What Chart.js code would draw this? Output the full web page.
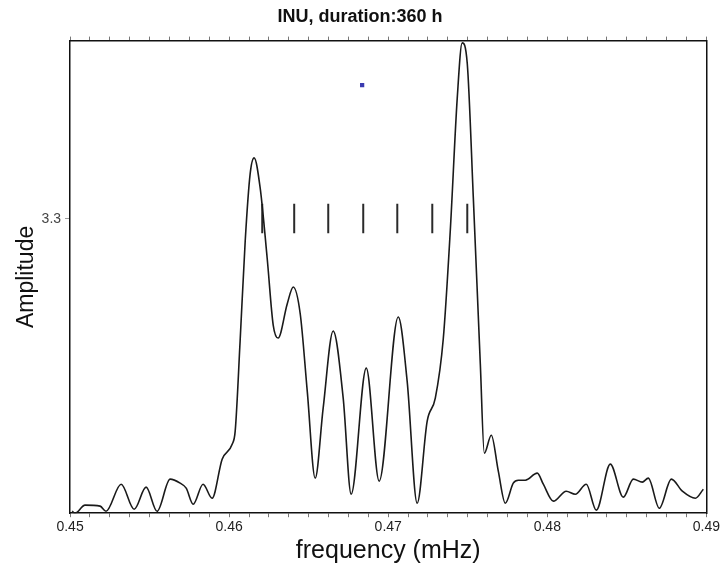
<!DOCTYPE html>
<html>
<head>
<meta charset="utf-8">
<script src="https://cdn.jsdelivr.net/npm/chart.js@4/dist/chart.umd.min.js"></script>
<style>
  html, body { margin: 0; padding: 0; background: #fff; }
  #c { display: block; }
</style>
</head>
<body>
<canvas id="c" width="722" height="566"></canvas>
<script>
// spectre d'amplitude
const freq = [
  0.45013, 0.45031, 0.45094, 0.45189, 0.45226, 0.45321, 0.45403, 0.45478, 0.45547,
  0.45629, 0.45692, 0.45730, 0.45774, 0.45836, 0.45893, 0.45956, 0.46019, 0.46038,
  0.46069, 0.46101, 0.46132, 0.46157, 0.46195, 0.46239, 0.46277, 0.46308, 0.46365,
  0.46403, 0.46447, 0.46491, 0.46541, 0.46591, 0.46654, 0.46717, 0.46767, 0.46862,
  0.46943, 0.47063, 0.47119, 0.47182, 0.47245, 0.47296, 0.47346, 0.47390, 0.47434,
  0.47465, 0.47497, 0.47535, 0.47579, 0.47604, 0.47648, 0.47692, 0.47736, 0.47786,
  0.47818, 0.47862, 0.47937, 0.47975, 0.48038, 0.48119, 0.48176, 0.48245, 0.48308,
  0.48396, 0.48478, 0.48541, 0.48597, 0.48635, 0.48704, 0.48780, 0.48849, 0.48931,
  0.48981
];
const amp = [
  0.022, 0.000, 0.090, 0.079, 0.022, 0.325, 0.045, 0.292, 0.022,
  0.382, 0.337, 0.281, 0.101, 0.325, 0.168, 0.606, 0.774, 0.920,
  1.931, 3.053, 3.805, 3.985, 3.648, 2.862, 2.110, 1.964, 2.346,
  2.537, 2.234, 1.369, 0.393, 1.179, 2.043, 1.291, 0.213, 1.627,
  0.359, 2.200, 1.482, 0.112, 1.033, 1.291, 1.953, 3.165, 4.658,
  5.275, 5.040, 3.536, 1.672, 0.673, 0.875, 0.471, 0.112, 0.337,
  0.370, 0.370, 0.449, 0.325, 0.135, 0.247, 0.213, 0.325, 0.034,
  0.550, 0.180, 0.382, 0.348, 0.393, 0.056, 0.382, 0.247, 0.168,
  0.269
];

// repères verticaux des fréquences théoriques
const markFreq = [0.46208, 0.46409, 0.46623, 0.46843, 0.47057, 0.47277, 0.47497];
const markRange = [3.14, 3.47];

// petit repère bleu
const blueMark = [{ x: 0.46836, y: 4.80 }];

const yTicks = [3.3];
const FONT = "'Liberation Sans', Arial, sans-serif";

const spectrum = freq.map((f, i) => ({ x: f, y: amp[i] }));
const marks = markFreq.flatMap(f => [
  { x: f, y: markRange[0] },
  { x: f, y: markRange[1] },
  { x: f, y: null }
]);

function majorLabel(v) {
  const k = v * 100;
  return Math.abs(k - Math.round(k)) < 1e-6 ? v.toFixed(2) : '';
}

const ctx = document.getElementById('c').getContext('2d');
new Chart(ctx, {
  type: 'line',
  data: {
    datasets: [
      {
        data: spectrum,
        borderColor: '#1a1a1a',
        borderWidth: 1.6,
        pointRadius: 0,
        fill: false,
        cubicInterpolationMode: 'monotone'
      },
      {
        data: marks,
        borderColor: '#2a2a2a',
        borderWidth: 2,
        pointRadius: 0,
        spanGaps: false,
        tension: 0
      },
      {
        data: blueMark,
        showLine: false,
        pointStyle: 'rect',
        pointRadius: 3,
        backgroundColor: '#3a3ab0',
        borderColor: '#3a3ab0',
        borderWidth: 0
      }
    ]
  },
  options: {
    responsive: false,
    animation: false,
    devicePixelRatio: 1,
    layout: { padding: { left: 13, right: 15, top: 2, bottom: 0 } },
    plugins: {
      legend: { display: false },
      tooltip: { enabled: false },
      title: {
        display: true,
        text: 'INU, duration:360 h',
        color: '#111',
        font: { family: FONT, size: 18, weight: 'bold' },
        padding: { top: 4, bottom: 9 }
      }
    },
    scales: {
      x: {
        type: 'linear',
        position: 'bottom',
        min: 0.45,
        max: 0.49,
        ticks: {
          stepSize: 0.00125,
          autoSkip: false,
          maxTicksLimit: 100,
          maxRotation: 0,
          padding: 2,
          color: '#222',
          font: { family: FONT, size: 14 },
          callback: v => majorLabel(v)
        },
        grid: { drawOnChartArea: false, tickLength: 4, color: '#777' },
        border: { color: '#111', width: 1.5 },
        title: {
          display: true,
          text: 'frequency (mHz)',
          color: '#111',
          font: { family: FONT, size: 25 },
          padding: { top: -2, bottom: 0 }
        }
      },
      xTop: {
        type: 'linear',
        position: 'top',
        min: 0.45,
        max: 0.49,
        ticks: { display: false, stepSize: 0.00125, autoSkip: false, maxTicksLimit: 100 },
        grid: { drawOnChartArea: false, tickLength: 4, color: '#777' },
        border: { color: '#111', width: 1.5 }
      },
      y: {
        type: 'linear',
        position: 'left',
        min: 0,
        max: 5.3,
        afterBuildTicks: s => { s.ticks = yTicks.map(v => ({ value: v })); },
        ticks: {
          color: '#444',
          padding: 4,
          font: { family: FONT, size: 14 },
          callback: v => v.toFixed(1)
        },
        grid: { drawOnChartArea: false, tickLength: 5, color: '#999' },
        border: { color: '#111', width: 1.5 },
        title: {
          display: true,
          text: 'Amplitude',
          color: '#111',
          font: { family: FONT, size: 23 },
          padding: { top: 0, bottom: -3 }
        }
      },
      yRight: {
        type: 'linear',
        position: 'right',
        min: 0,
        max: 5.3,
        ticks: { display: false },
        grid: { display: false, drawTicks: false },
        border: { display: true, color: '#111', width: 1.5 }
      }
    }
  }
});
</script>
</body>
</html>
